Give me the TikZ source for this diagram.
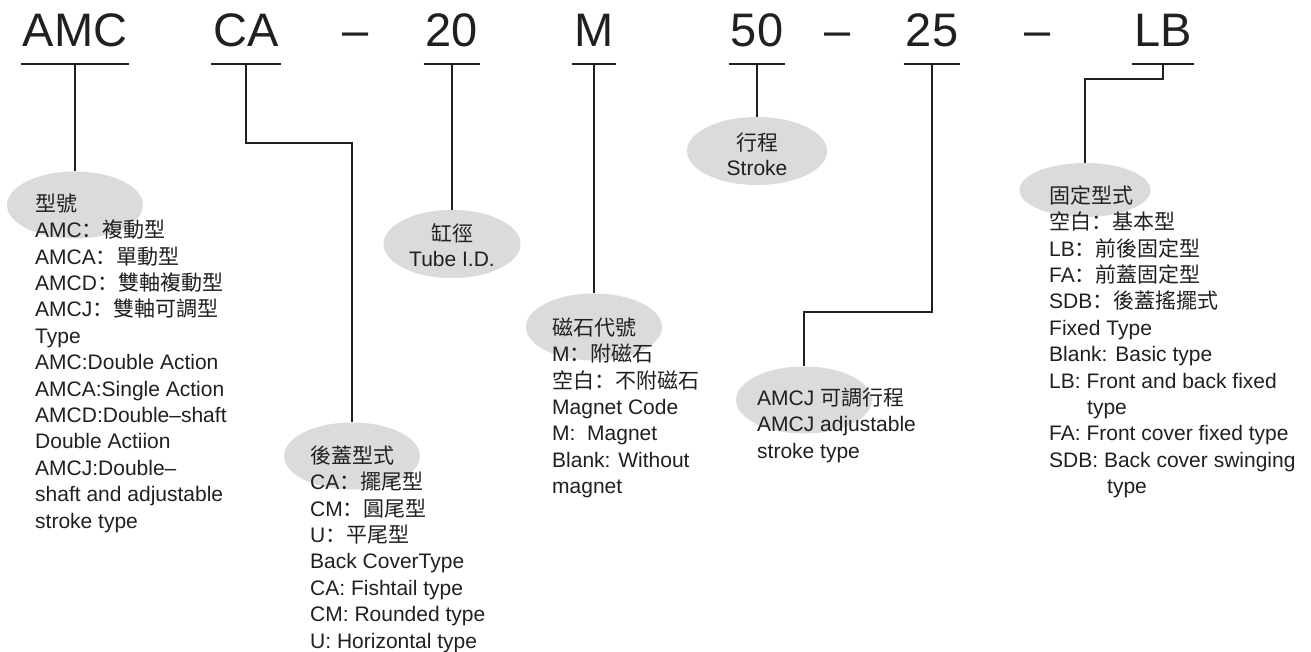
\documentclass[tikz,border=0pt]{standalone}
\usepackage{fontspec}
\setmainfont{Liberation Sans}
\newfontfamily\zhfont{Noto Sans CJK TC}
\newfontfamily\zhpunct{Noto Sans CJK SC}
\usepackage{tikz}
\usetikzlibrary{shapes.geometric}
\definecolor{inkcol}{RGB}{35,31,32}
\definecolor{ovalcol}{RGB}{219,219,220}
\newcommand{\zh}[1]{{\zhfont #1}}
\newcommand{\zc}{{\zhpunct ：}}
\newcommand{\firstln}{\rule{0pt}{20pt}}
\tikzset{
  code/.style={anchor=base, inner xsep=2pt, inner ysep=0pt, text=inkcol, font=\fontsize{47}{47}\selectfont},
  oval/.style={ellipse, fill=ovalcol, inner sep=0pt, minimum width=136pt, minimum height=67pt},
  info/.style={anchor=north west, inner sep=0pt, align=left, text=inkcol, font=\fontsize{21}{26.4}\selectfont},
  tag/.style={inner sep=0pt, align=center, text=inkcol, font=\fontsize{21}{25}\selectfont},
  link/.style={draw=inkcol, line width=1.4pt}
}

\begin{document}
\begin{tikzpicture}[x=1pt,y=-1pt]
    \useasboundingbox (0,0) rectangle (1311,652);
    \fill[white] (0,0) rectangle (1311,652);
    \node[code] (amc) at (75,47) {AMC};
    \node[code] (ca) at (246,47) {CA};
    \node[code] (d1) at (356,47) {\textendash};
    \node[code] (bore) at (452,47) {20};
    \node[code] (mag) at (594,47) {M};
    \node[code] (st) at (757,47) {50};
    \node[code] (d2) at (838,47) {\textendash};
    \node[code] (adj) at (932,47) {25};
    \node[code] (d3) at (1038,47) {\textendash};
    \node[code] (mnt) at (1163,47) {LB};
    \foreach \n in {amc,ca,bore,mag,st,adj,mnt}{
      \draw[link] ([yshift=-17pt]\n.base west) -- ([yshift=-17pt]\n.base east);
      \coordinate (\n-t) at ([yshift=-17pt]\n.base);
    }
    \node[oval] (typel) at (75,205) {};
    \node[oval] (coverl) at (352,456) {};
    \node[oval, minimum width=137pt, minimum height=68pt] (borel) at (452,244) {};
    \node[oval] (magl) at (594,327) {};
    \node[oval, minimum width=140pt, minimum height=68pt] (stl) at (757,151) {};
    \node[oval] (adjl) at (804,400) {};
    \node[oval, minimum width=131pt, minimum height=54pt] (mntl) at (1085,190) {};
    \draw[link] (amc-t) -- (typel.north);
    \draw[link] (ca-t) -- ++(0,79) -| (coverl.north);
    \draw[link] (bore-t) -- (borel.north);
    \draw[link] (mag-t) -- (magl.north);
    \draw[link] (st-t) -- (stl.north);
    \draw[link] (adj-t) -- ++(0,248) -| (adjl.north);
    \draw[link] (mnt-t) -- ++(0,15) -| (mntl.north);
    \node[info] (typetxt) at (35,191) {\firstln\zh{型號}\\
      AMC\zc\zh{複動型}\\ AMCA\zc\zh{單動型}\\ AMCD\zc\zh{雙軸複動型}\\ AMCJ\zc\zh{雙軸可調型}\\
      Type\\ AMC:Double Action\\ AMCA:Single Action\\ AMCD:Double\textendash shaft\\
      Double Actiion\\ AMCJ:Double\textendash\\ shaft and adjustable\\ stroke type};
    \node[info] (covertxt) at (310,443) {\firstln\zh{後蓋型式}\\
      CA\zc\zh{擺尾型}\\ CM\zc\zh{圓尾型}\\ U\zc\zh{平尾型}\\ Back CoverType\\
      CA: Fishtail type\\ CM: Rounded type\\ U: Horizontal type};
    \node[tag] (boretxt) at (452,245) {\zh{缸徑}\\ Tube I.D.};
    \node[info] (magtxt) at (552,315) {\firstln\zh{磁石代號}\\
      M\zc\zh{附磁石}\\ \zh{空白}\zc\zh{不附磁石}\\ Magnet Code\\ M:\ \ Magnet\\ Blank: Without\\ magnet};
    \node[tag] (sttxt) at (757,154) {\zh{行程}\\ Stroke};
    \node[info] (adjtxt) at (757,385) {\firstln AMCJ \zh{可調行程}\\ AMCJ adjustable\\ stroke type};
    \node[info] (mnttxt) at (1049,183) {\firstln\zh{固定型式}\\
      \zh{空白}\zc\zh{基本型}\\ LB\zc\zh{前後固定型}\\ FA\zc\zh{前蓋固定型}\\ SDB\zc\zh{後蓋搖擺式}\\
      Fixed Type\\ Blank: Basic type\\ LB: Front and back fixed\\ \hspace*{38pt}type\\
      FA: Front cover fixed type\\ SDB: Back cover swinging\\ \hspace*{58pt}type};
\end{tikzpicture}
\end{document}
